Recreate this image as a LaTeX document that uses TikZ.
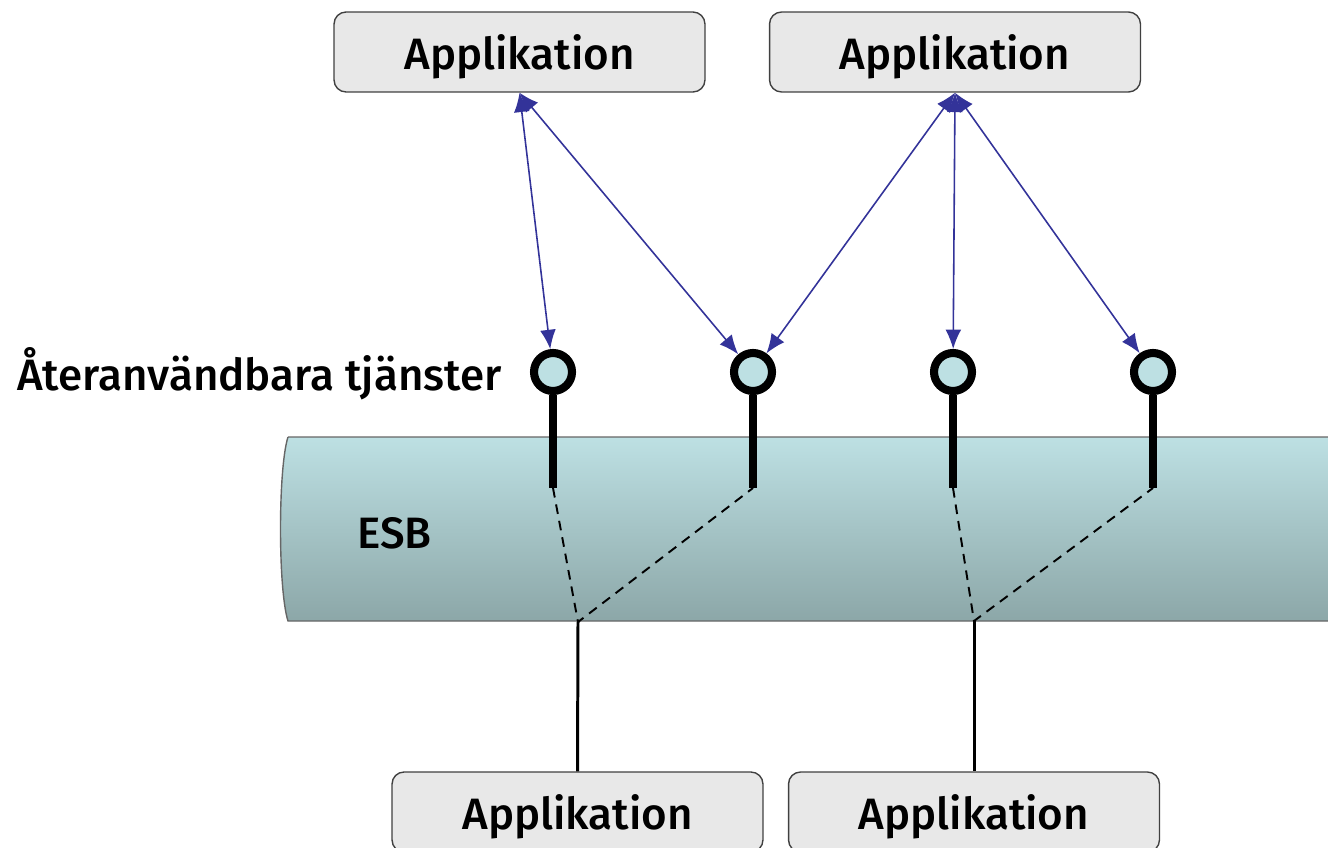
\documentclass[tikz,border=0pt]{standalone}
\usepackage{fontspec}
\setmainfont{Fira Sans}[BoldFont={Fira Sans Medium}]
\usetikzlibrary{arrows.meta}

\definecolor{appfill}{HTML}{E8E8E8}
\definecolor{esbtop}{HTML}{BDE0E3}
\definecolor{esbbot}{HTML}{8CA7A8}
\definecolor{linkblue}{HTML}{333399}

\begin{document}
\begin{tikzpicture}[x=0.02cm,y=-0.02cm,
  app/.style={draw=black!75, fill=appfill, line width=0.8pt, rounded corners=0.24cm,
    minimum width=7.42cm, minimum height=1.6cm, inner sep=0pt, text depth=0pt,
    font=\fontsize{25}{30}\selectfont\bfseries},
  tjanst/.style={circle, draw=black, fill=esbtop, line width=4.6pt,
    minimum size=0.76cm, inner sep=0pt},
  stem/.style={black, line width=4.6pt},
  via/.style={dash pattern=on 5.5pt off 4pt, line width=1.1pt},
  link/.style={linkblue, line width=0.9pt,
    {Latex[length=11pt,width=9pt]}-{Latex[length=11pt,width=9pt]}},
  label/.style={font=\fontsize{25}{30}\selectfont\bfseries, inner sep=0pt}]
  \useasboundingbox (0,0) rectangle (1328,848);

  % ESB tube
  \shade[top color=esbtop, bottom color=esbbot, draw=black!60, line width=0.8pt]
    (288,437) -- (1340,437) -- (1340,621) -- (288,621)
    .. controls (278,590) and (278,468) .. (288,437);
  \node[label, anchor=west] (esb) at (357,533) {ESB};

  % applikationer
  \node[app] (app1) at (519.5,52) {Applikation};
  \node[app] (app2) at (955,52) {Applikation};
  \node[app] (app3) at (577.5,812) {Applikation};
  \node[app] (app4) at (974,812) {Applikation};

  % tjanster
  \node[label, anchor=east] (reuse) at (502,374) {Återanvändbara tjänster};
  \foreach \n/\x in {1/553,2/753,3/953,4/1153} {
    \node[tjanst] (s\n) at (\x,372) {};
    \coordinate (f\n) at (\x,488);
    \draw[stem] (s\n.south) -- (f\n);
  }

  % kopplingar genom bussen
  \coordinate (j1) at (578,622);
  \coordinate (j2) at (974,621);
  \draw[via] (f1) -- (j1) -- (f2);
  \draw[via] (f3) -- (j2) -- (f4);
  \draw[line width=1.7pt] (j1) -- (app3.north);
  \draw[line width=1.7pt] (j2) -- (app4.north);

  % anrop
  \draw[link] (app1.south) -- (s1);
  \draw[link] (app1.south) -- (s2);
  \draw[link] (app2.south) -- (s2);
  \draw[link] (app2.south) -- (s3);
  \draw[link] (app2.south) -- (s4);
\end{tikzpicture}
\end{document}
